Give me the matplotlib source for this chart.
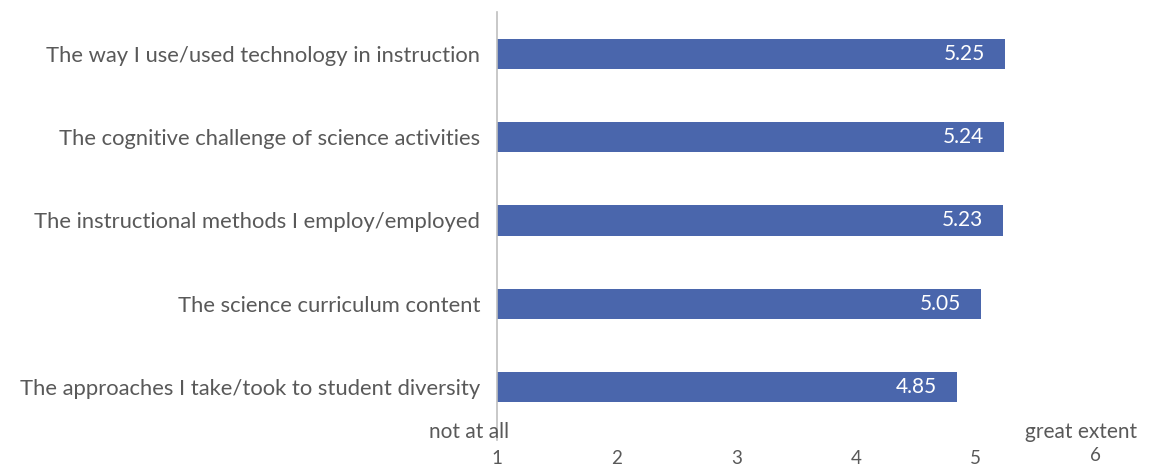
import matplotlib
matplotlib.use("Agg")
import matplotlib.pyplot as plt
import matplotlib.transforms as mtransforms

categories = [
    "The way I use/used technology in instruction",
    "The cognitive challenge of science activities",
    "The instructional methods I employ/employed",
    "The science curriculum content",
    "The approaches I take/took to student diversity",
]
values = [5.25, 5.24, 5.23, 5.05, 4.85]
tick_values = [1, 2, 3, 4, 5, 6]
tick_labels = ["1", "2", "3", "4", "5", "6"]
low_label = "not at all"
high_label = "great extent"

plt.rcParams["font.family"] = ["Lato", "DejaVu Sans"]
bar_color = "#4A66AC"
text_color = "#595959"

fig = plt.figure(figsize=(11.52, 4.68), dpi=100)
ax = fig.add_axes([497 / 1152, 1 - 429 / 468, (1095 - 497) / 1152, (429 - 12) / 468])

ypos = list(range(len(categories)))
ax.barh(ypos, [v - 1 for v in values], left=1, height=0.36, color=bar_color)
for y, v in zip(ypos, values):
    ax.text(v - 0.17, y, f"{v:.2f}", ha="right", va="center",
            color="white", fontsize=15)

ax.set_xlim(1, 6)
ax.set_ylim(len(categories) - 0.5, -0.5)
ax.set_yticks(ypos)
ax.set_yticklabels(categories, fontsize=15.8, color=text_color)
ax.tick_params(axis="y", length=0, pad=12)

ax.set_xticks(tick_values)
ax.set_xticklabels(tick_labels, fontsize=13.5, color=text_color)
ax.tick_params(axis="x", length=0, pad=15)
last = ax.get_xticklabels()[-1]
last.set_transform(last.get_transform() +
                   mtransforms.ScaledTranslation(0, 3 / 100, fig.dpi_scale_trans))

for side in ["top", "right", "bottom"]:
    ax.spines[side].set_visible(False)
ax.spines["left"].set_color("#BFBFBF")
ax.spines["left"].set_linewidth(1.2)
ax.spines["left"].set_bounds(len(categories) - 0.5 + 0.13, -0.5)

ax.text(1 - 0.23, -0.008, low_label, transform=ax.get_xaxis_transform(),
        ha="center", va="center", fontsize=15, color=text_color)
ax.text(6.35, -0.008, high_label, transform=ax.get_xaxis_transform(),
        ha="right", va="center", fontsize=15, color=text_color)

fig.savefig("out.png", dpi=100, facecolor="white")
